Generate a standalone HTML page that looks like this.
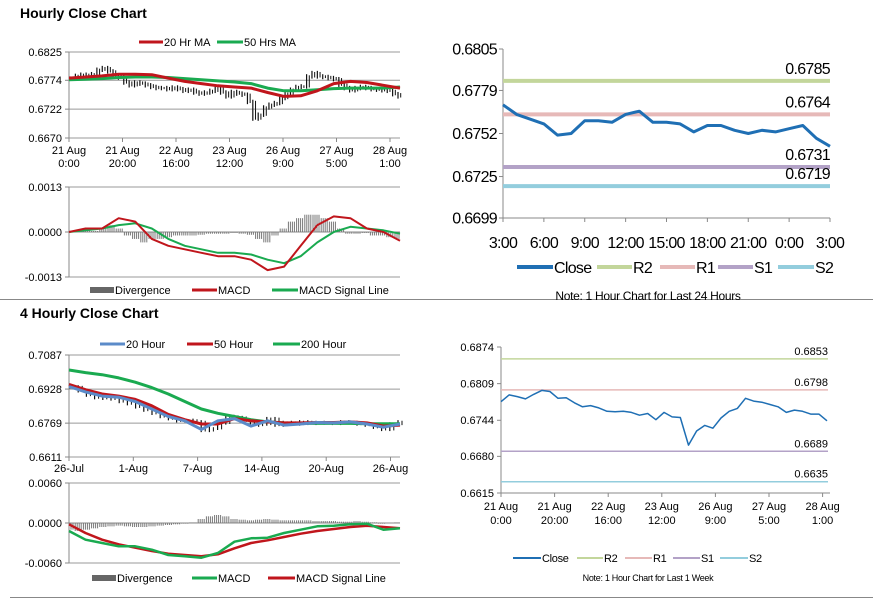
<!DOCTYPE html>
<html><head><meta charset="utf-8"><style>
body{margin:0;background:#fff;}
svg{display:block;font-family:"Liberation Sans",Arial,sans-serif;}
</style></head><body>
<svg id="s" width="873" height="601" viewBox="0 0 873 601">
<text x="20" y="18" font-size="14" font-weight="bold">Hourly Close Chart</text>
<text x="20" y="318" font-size="14" font-weight="bold">4 Hourly Close Chart</text>
<line x1="0" y1="299.5" x2="873" y2="299.5" stroke="#888"/>
<line x1="10" y1="597.5" x2="873" y2="597.5" stroke="#888"/>
</svg>
<script>
// ---------- data ----------
const h1Close=[0.6777,0.6782,0.6784,0.6780,0.6785,0.6793,0.6796,0.6790,0.6782,0.6779,0.6770,0.6765,0.6770,0.6768,0.6765,0.6762,0.6760,0.6760,0.6758,0.6761,0.6758,0.6755,0.6757,0.6752,0.6750,0.6752,0.6755,0.6760,0.6752,0.6745,0.6753,0.6750,0.6748,0.6735,0.6705,0.6712,0.6725,0.6730,0.6733,0.6742,0.6750,0.6757,0.6762,0.6763,0.6781,0.6787,0.6781,0.6780,0.6778,0.6776,0.6766,0.6760,0.6756,0.6760,0.6762,0.6760,0.6758,0.6757,0.6756,0.6755,0.6749,0.6745];
const h1MA20=[0.6778,0.6780,0.6782,0.6785,0.6785,0.6784,0.6778,0.6772,0.6768,0.6764,0.6762,0.6760,0.6752,0.6745,0.6746,0.6755,0.6768,0.6772,0.6770,0.6765,0.6760];
const h1MA50=[0.6775,0.6776,0.6777,0.6779,0.6780,0.6780,0.6779,0.6777,0.6775,0.6773,0.6771,0.6768,0.6760,0.6755,0.6755,0.6757,0.6759,0.6760,0.6760,0.6760,0.6762];
const h1Ticks=[0.6825,0.6774,0.6722,0.6670];
const h1Cats=[["21 Aug","0:00"],["21 Aug","20:00"],["22 Aug","16:00"],["23 Aug","12:00"],["26 Aug","9:00"],["27 Aug","5:00"],["28 Aug","1:00"]];
const h1Macd=[0,0.0001,0.0001,0.0004,0.0003,-0.0002,-0.0004,-0.0005,-0.0006,-0.0007,-0.0007,-0.0008,-0.0011,-0.0010,-0.0004,0.0002,0.00045,0.0004,0.0001,0.0000,-0.00025];
const h1Signal=[0,0.00005,0.0001,0.0002,0.00025,0.0001,-0.0002,-0.0004,-0.0005,-0.0006,-0.0006,-0.00065,-0.0008,-0.0009,-0.0007,-0.0003,0.0000,0.00015,0.0001,0.00005,-0.00005];
const h1Div=[0,0.00003,0.00005,0.00003,0.0001,0.0002,0.0001,-0.0001,-0.0002,-0.0003,-0.0002,-0.0002,-0.00015,-0.0001,-0.0001,-0.0001,-0.00008,-0.00005,-0.00005,-0.00005,-0.00003,-0.00005,-0.00008,-0.0002,-0.0003,-0.0001,0.0001,0.0003,0.0004,0.0005,0.0005,0.0004,0.0003,0.0001,-0.00005,-0.00005,-0.00003,-0.0001,-0.0001,-0.00015,-0.0002];
const h1MTicks=[0.0013,0.0000,-0.0013];
const h24Close=[0.6770,0.6764,0.6761,0.6758,0.6751,0.6752,0.6760,0.6760,0.6759,0.6764,0.6766,0.6759,0.6759,0.6758,0.6753,0.6757,0.6757,0.6754,0.6752,0.6754,0.6753,0.6755,0.6757,0.6749,0.6744];
const h24Levels=[0.6785,0.6764,0.6731,0.6719];
const h24Ticks=[0.6805,0.6779,0.6752,0.6725,0.6699];
const h24Cats=["3:00","6:00","9:00","12:00","15:00","18:00","21:00","0:00","3:00"];
const wkClose=[0.6777,0.6789,0.6786,0.6782,0.6790,0.6797,0.6795,0.6783,0.6784,0.6775,0.6768,0.6770,0.6766,0.6760,0.6759,0.6760,0.6758,0.6753,0.6756,0.6745,0.6758,0.6750,0.6749,0.6700,0.6725,0.6735,0.6730,0.6748,0.6760,0.6765,0.6783,0.6778,0.6776,0.6772,0.6768,0.6758,0.6762,0.6760,0.6755,0.6755,0.6743];
const wkLevels=[0.6853,0.6798,0.6689,0.6635];
const wkTicks=[0.6874,0.6809,0.6744,0.6680,0.6615];
const h4Close=[0.6938,0.6920,0.6900,0.6888,0.6885,0.6882,0.6870,0.6860,0.6845,0.6830,0.6815,0.6800,0.6790,0.6780,0.6782,0.6775,0.6735,0.6745,0.6770,0.6800,0.6795,0.6780,0.6760,0.6765,0.6790,0.6760,0.6772,0.6765,0.6775,0.6768,0.6772,0.6770,0.6768,0.6775,0.6772,0.6765,0.6760,0.6750,0.6740,0.6765,0.6775];
const h4MA20=[0.6940,0.6915,0.6895,0.6890,0.6870,0.6835,0.6800,0.6780,0.6740,0.6780,0.6790,0.6755,0.6780,0.6760,0.6765,0.6772,0.6770,0.6775,0.6765,0.6750,0.6765];
const h4MA50=[0.6950,0.6925,0.6905,0.6895,0.6880,0.6850,0.6810,0.6785,0.6765,0.6765,0.6790,0.6780,0.6775,0.6770,0.6770,0.6772,0.6772,0.6775,0.6770,0.6755,0.6760];
const h4MA200=[0.7017,0.7005,0.6995,0.6980,0.6960,0.6935,0.6905,0.6870,0.6835,0.6815,0.6800,0.6785,0.6775,0.6770,0.6768,0.6768,0.6768,0.6768,0.6766,0.6766,0.6766];
const h4Ticks=[0.7087,0.6928,0.6769,0.6611];
const h4Cats=["26-Jul","1-Aug","7-Aug","14-Aug","20-Aug","26-Aug"];
const h4Macd=[-0.0012,-0.0025,-0.0030,-0.0035,-0.0035,-0.0040,-0.0048,-0.0050,-0.0052,-0.0045,-0.0028,-0.0023,-0.0022,-0.0015,-0.0010,-0.0005,-0.0004,-0.0002,-0.0001,-0.0010,-0.0008];
const h4Signal=[-0.0002,-0.0015,-0.0025,-0.0032,-0.0037,-0.0042,-0.0046,-0.0048,-0.0050,-0.0047,-0.0038,-0.0030,-0.0026,-0.0021,-0.0016,-0.0012,-0.0009,-0.0006,-0.0004,-0.0006,-0.0008];
const h4Div=[-0.0010,-0.0012,-0.0010,-0.0008,-0.0006,-0.0005,-0.0004,-0.0005,-0.0006,-0.0006,-0.0005,-0.0004,-0.0003,-0.0002,-0.0001,0.0001,0.0006,0.0010,0.0012,0.0010,0.0006,0.0005,0.0004,0.0005,0.0006,0.0005,0.0004,0.0004,0.0004,0.0004,0.0003,0.0003,0.0003,0.0002,0.0002,0.0003,0.0002,0.0001,-0.0001,0.0000,0.0001];
const h4MTicks=[0.0060,0.0000,-0.0060];

// ---------- helpers ----------
const NS="http://www.w3.org/2000/svg";
const S=document.getElementById('s');
function mk(tag,attrs){const e=document.createElementNS(NS,tag);for(const k in attrs)e.setAttribute(k,attrs[k]);S.appendChild(e);return e;}
function lin(d0,d1,r0,r1){return v=>r0+(v-d0)/(d1-d0)*(r1-r0);}
function idxX(n,x0,x1){return i=>x0+i*(x1-x0)/(n-1);}
function poly(vals,xf,yf,color,w,name){
  const p=vals.map((v,i)=>xf(i).toFixed(1)+","+yf(v).toFixed(1)).join(" ");
  const e=mk('polyline',{points:p,fill:"none",stroke:color,"stroke-width":w,"stroke-linejoin":"round"});
  
  
}
let LS=0;
function txt(x,y,s,size,anchor,name,color){
  const e=mk('text',{x:x,y:y,"font-size":size,"text-anchor":anchor,fill:color||"#000","letter-spacing":LS});
  e.textContent=s;
  
  
  return e;
}
function ln(x1,y1,x2,y2,color,w,name){
  const e=mk('line',{x1:x1,y1:y1,x2:x2,y2:y2,stroke:color,"stroke-width":w});
  
  
}
function legend(items,y,size){
  items.forEach(it=>{
    if(it.box){const r=mk('rect',{x:it.x,y:y-3,width:it.w,height:6,fill:"#666"});
      
      }
    else ln(it.x,y,it.x+it.w,y,it.c,it.sw||3,'legend-swatch');
    txt(it.x+it.w+1,y+size*0.36,it.t,size,"start",'legend-entry');
  });
}
function yAxis(ticks,yf,x0,x1,grid,size,labX,name){
  ticks.forEach(t=>{
    if(grid) ln(x0,yf(t),x1,yf(t),"#999",1,'gridline');
    ln(x0-4,yf(t),x0,yf(t),"#888",1,'y-tick');
    txt(labX,yf(t)+size*0.35,t.toFixed(4),size,"end",name);
  });
  ln(x0,yf(ticks[0]),x0,yf(ticks[ticks.length-1]),"#888",1,'y-axis');
}

// ---------- Hourly price (top-left) ----------
{
 const yf=lin(0.6670,0.6825,138,52);
 yAxis(h1Ticks,yf,69,400,true,11,62,'y-tick-label');
 const xf=idxX(h1Close.length,70,398);
 h1Close.forEach((v,i)=>{const p=i?h1Close[i-1]:v;const a=Math.max(v,p)+0.0004,b=Math.min(v,p)-0.0004;
   ln(xf(i),yf(a),xf(i),yf(b),"#111",1.2,'price-bar');
   ln(xf(i)+2.7,yf(a-0.0002),xf(i)+2.7,yf(b+0.0002),"#111",1,'price-bar');});
 const mx=idxX(h1MA20.length,69,400);
 poly(h1MA50,mx,yf,"#1aaa50",3,'ma50-line');
 poly(h1MA20,mx,yf,"#c0161c",3,'ma20-line');
 h1Cats.forEach((c,i)=>{const x=69+i*53.5;ln(x,138,x,142,"#888",1,'x-tick');
   txt(x,154,c[0],11,"middle",'x-tick-label');txt(x,167,c[1],11,"middle",'x-tick-label');});
 legend([{x:139,w:24,c:"#c0161c",t:"20 Hr MA"},{x:217,w:26,c:"#1aaa50",t:"50 Hrs MA"}],42,11);
}
// ---------- Hourly MACD ----------
{
 const yf=lin(-0.0013,0.0013,277,187);
 ln(69,187,400,187,"#999",1,'gridline');ln(69,277,400,277,"#999",1,'gridline');
 ln(69,232,400,232,"#888",1,'zero-line');
 yAxis(h1MTicks,yf,69,400,false,11,62,'y-tick-label');
 const df=idxX(h1Div.length,70,398);
 h1Div.forEach((v,i)=>{for(let k=0;k<4;k++){const x=df(i)+(k-1.5)*2;if(x<70||x>399)continue;ln(x,yf(0),x,yf(v),"#777",1,'divergence-bar');}});
 const mx=idxX(h1Macd.length,69,400);
 poly(h1Signal,mx,yf,"#1aaa50",2,'macd-signal-line');
 poly(h1Macd,mx,yf,"#c0161c",2,'macd-line');
 legend([{x:90,w:24,box:1,t:"Divergence"},{x:192,w:25,c:"#c0161c",t:"MACD"},{x:272,w:26,c:"#1aaa50",t:"MACD Signal Line"}],290,11);
}
// ---------- 24h pivot chart (top-right) ----------
{
 LS=-0.7;
 const yf=lin(0.6699,0.6805,218,49);
 yAxis(h24Ticks,yf,503,830,false,16,497,'y-tick-label');
 ln(503,218,830,218,"#888",1,'x-axis');
 const cols=["#c3d69b","#e6b9b8","#b3a2c7","#93cddd"];
 h24Levels.forEach((v,i)=>{ln(503,yf(v),830,yf(v),cols[i],4,'pivot-level-'+i);
   txt(830,yf(v)-7,v.toFixed(4),16,"end",'pivot-level-label');});
 const xf=idxX(h24Close.length,503,830);
 poly(h24Close,xf,yf,"#1f6fb4",3,'close-line');
 h24Cats.forEach((c,i)=>{const x=503+i*40.875;ln(x,218,x,222,"#888",1,'x-tick');txt(x,248,c,16,"middle",'x-tick-label');});
 legend([{x:517,w:36,c:"#1f6fb4",t:"Close",sw:4},{x:597,w:35,c:"#c3d69b",t:"R2",sw:4},{x:660,w:35,c:"#e6b9b8",t:"R1",sw:4},{x:718,w:35,c:"#b3a2c7",t:"S1",sw:4},{x:778,w:36,c:"#93cddd",t:"S2",sw:4}],267,16);
 LS=-0.3;
 txt(648,300,"Note: 1 Hour Chart for Last 24 Hours",12,"middle",'chart-note');
 LS=0;
}
// ---------- 4 hourly price (bottom-left) ----------
{
 const yf=lin(0.6611,0.7087,457,355);
 yAxis(h4Ticks,yf,69,400,true,11,62,'y-tick-label');
 const xf=idxX(h4Close.length,70,398);
 h4Close.forEach((v,i)=>{const p=i?h4Close[i-1]:v;const a=Math.max(v,p)+0.0008,b=Math.min(v,p)-0.0008;
   ln(xf(i),yf(a),xf(i),yf(b),"#111",1.2,'price-bar');
   ln(xf(i)+4,yf(a-0.0003),xf(i)+4,yf(b+0.0003),"#111",1,'price-bar');});
 const mx=idxX(h4MA20.length,69,400);
 poly(h4MA200,mx,yf,"#1aaa50",3,'ma200-line');
 poly(h4MA50,mx,yf,"#c0161c",3,'ma50-line');
 poly(h4MA20,mx,yf,"#5b8bc9",3,'ma20-line');
 h4Cats.forEach((c,i)=>{const x=69+i*64.3;ln(x,457,x,461,"#888",1,'x-tick');txt(x,472,c,11,"middle",'x-tick-label');});
 legend([{x:100,w:25,c:"#5b8bc9",t:"20 Hour"},{x:187,w:26,c:"#c0161c",t:"50 Hour"},{x:273,w:27,c:"#1aaa50",t:"200 Hour"}],344,11);
}
// ---------- 4 hourly MACD ----------
{
 const yf=lin(-0.0060,0.0060,563,483);
 ln(69,483,400,483,"#999",1,'gridline');ln(69,563,400,563,"#999",1,'gridline');
 ln(69,523,400,523,"#888",1,'zero-line');
 yAxis(h4MTicks,yf,69,400,false,11,62,'y-tick-label');
 const df=idxX(h4Div.length,70,398);
 h4Div.forEach((v,i)=>{for(let k=0;k<4;k++){const x=df(i)+(k-1.5)*2;if(x<70||x>399)continue;ln(x,yf(0),x,yf(v),"#777",1,'divergence-bar');}});
 const mx=idxX(h4Macd.length,69,400);
 poly(h4Signal,mx,yf,"#c0161c",2.5,'macd-signal-line');
 poly(h4Macd,mx,yf,"#1aaa50",2.5,'macd-line');
 legend([{x:92,w:24,box:1,t:"Divergence"},{x:192,w:25,c:"#1aaa50",t:"MACD"},{x:268,w:27,c:"#c0161c",t:"MACD Signal Line"}],578,11);
}
// ---------- weekly pivot chart (bottom-right) ----------
{
 const yf=lin(0.6615,0.6874,493,347);
 yAxis(wkTicks,yf,501,830,false,11,494,'y-tick-label');
 ln(501,493,830,493,"#888",1,'x-axis');
 const cols=["#c3d69b","#e6b9b8","#b3a2c7","#93cddd"];
 wkLevels.forEach((v,i)=>{ln(501,yf(v),828,yf(v),cols[i],1.5,'pivot-level-'+i);
   txt(828,yf(v)-4,v.toFixed(4),11,"end",'pivot-level-label');});
 const xf=idxX(wkClose.length,501,827);
 poly(wkClose,xf,yf,"#1f6fb4",1.5,'close-line');
 h1Cats.forEach((c,i)=>{const x=501+i*53.6;ln(x,493,x,497,"#888",1,'x-tick');
   txt(x,510,c[0],11,"middle",'x-tick-label');txt(x,524,c[1],11,"middle",'x-tick-label');});
 LS=-0.3;
 legend([{x:513,w:28,c:"#1f6fb4",t:"Close",sw:2},{x:577,w:26,c:"#c3d69b",t:"R2",sw:2},{x:625,w:27,c:"#e6b9b8",t:"R1",sw:2},{x:673,w:27,c:"#b3a2c7",t:"S1",sw:2},{x:720,w:28,c:"#93cddd",t:"S2",sw:2}],558,11);
 txt(648,581,"Note: 1 Hour Chart for Last 1 Week",9,"middle",'chart-note');
 LS=0;
}
</script>
</body></html>
